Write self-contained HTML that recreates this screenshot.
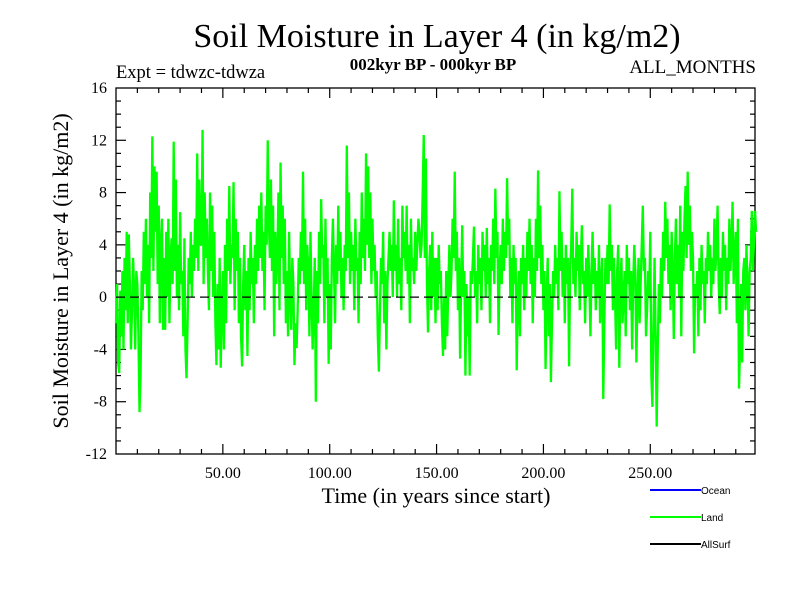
<!DOCTYPE html>
<html><head><meta charset="utf-8"><style>
body{margin:0;background:#fff}
svg text{font-family:"Liberation Serif",serif;fill:#000}
</style></head><body>
<svg id="chart" width="800" height="600" xmlns="http://www.w3.org/2000/svg">
<rect width="800" height="600" fill="#fff"/>
<text x="437" y="47" font-size="34" text-anchor="middle">Soil Moisture in Layer 4 (in kg/m2)</text>
<text x="116" y="78" font-size="18.5">Expt = tdwzc-tdwza</text>
<text x="433" y="70" font-size="17" font-weight="bold" text-anchor="middle">002kyr BP - 000kyr BP</text>
<text x="756" y="73" font-size="19" text-anchor="end">ALL_MONTHS</text>
<text transform="translate(68,271) rotate(-90)" font-size="22" text-anchor="middle">Soil Moisture in Layer 4 (in kg/m2)</text>
<text x="436" y="503" font-size="22" text-anchor="middle">Time (in years since start)</text>
<g id="ticks"></g>
<g id="plot"></g>
<g>
<g><line x1="650" y1="490" x2="701" y2="490" stroke="#0000ff" stroke-width="2"/><text x="701" y="494" font-size="10" style="font-family:'Liberation Sans',sans-serif">Ocean</text></g>
<g><line x1="650" y1="517" x2="701" y2="517" stroke="#00ff00" stroke-width="2"/><text x="701" y="521" font-size="10" style="font-family:'Liberation Sans',sans-serif">Land</text></g>
<g><line x1="650" y1="544" x2="701" y2="544" stroke="#000" stroke-width="2"/><text x="701" y="548" font-size="10" style="font-family:'Liberation Sans',sans-serif">AllSurf</text></g>
</g>
</svg>
<script>
const xTickValues=[50,100,150,200,250];
const xTickLabels=["50.00","100.00","150.00","200.00","250.00"];
const yTickValues=[-12,-8,-4,0,4,8,12,16];
const yTickLabels=["-12","-8","-4","0","4","8","12","16"];
const timeStep=0.5;
const landValues=[
-2,1,-5,-5.8,0.5,-3,2,-4,3,-1,5,-2,4.8,1,-4,-1,3,0.5,-4,2,
1,-3,-8.8,-6,2,-1,5,1,6,0,4,-2,8,3,12.3,2,10,5,9.6,1,
7,-2,4,6,-2.5,3,-2.5,5,0,6,-2,3,4.5,1,11.9,2,9,0,4,-1,
6.5,1,2,-3,4.5,-4,-6.2,-2,3,1,5,0,4,2,6,3,11,2,9,4,
4,12.8,1,8,3,6,2,-1,8,2,7,0,5,-2,-5.2,1,-4,3,-5.4,-1,
2,-4,4,-2,6,2,8.5,1,4,3,8.8,-1,6,2,5,-2,3,-3,-5.3,1,
4,-1,2,-4.5,3,-1,5,1,3,-2,4,1,6,2,7,3,8,2,5,-1,
7,4,12,6,3,9,2,7,-3,5,1,3,8,-1,10.3,3,7,1,6,-2,
2,-3,5,0,-2.5,3,1,-5.2,-2,-3.9,-1,3,1,5,2,9.6,1,6,-1,4,
2,-3,5,0,-4,-1,3,-8,2,-2,5,1,7.5,3,4,-2,6,0,3,-5.1,
1,-4,3,6,2,-2,4,1,7,2,5,0,3,-1,4,2,11.6,3,8,1,
5,2,4,-1,6,2,3,-2,5,1,8,3,6,2,11,4,10,3,8,1,
6,2,4,0,2,-3,-5.7,-1,3,1,5,-2,2,-4,1,3,5,2,4,0,
7.4,2,4,0,6,1,3,-1,7,3,5,2,7,1,4,-2,6,2,3,1,
5,2,4,6,5,3,4,8,12.4,3,10.6,1,-2.7,2,4,-1,5,0,3,-2,
3,-1,4,1,2,-2,-4.5,0,-4,2,-3,1,4,0,2,6,3,9.6,2,5,
-1,3,-4.7,1,5.5,0,2,-6,1,-3,0,-6,2,1,3,5.4,0,2,-2,4,
1,3,-1,5,2,4,0,5.3,1,3,-2,4,2,6,1,8.3,3,5,-2.9,2,
4,1,6,2,5,3,9.1,4,6,0,3,-2,4,1,3,-5.6,0,2,-3,3,
1,4,-1,3,0,5,2,6,1,4,-2,3,0,6,2,9.7,3,7,1,4,
-1,2,-5.5,0,3,-3,1,-6.5,-2,2,0,4,1,3,-1,8.1,2,5,0,3,
-2,4,1,3,-5.3,2,4,8.3,1,3,0,5,2,4,-1,3,5.5,1,2,-2,
3,0,4,1,-3,2,5,1,3,-1,2,0,4,-2,1,3,-7.8,-2,3,1,
4,1,7.1,2,4,-1,3,0,-4,2,4,-5.4,1,3,-2,0,2,-3,4,1,
3,-1,2,-4,1,4,2,-5,0,3,-2,1,4,7,2,3,-3,-1,2,0,
5,-6,-8.4,-2,3,-3,-9.9,-4,1,-2,3,0,5,2,7.3,3,6,1,4,-1,
5,2,-3.2,3,6,1,4,0,7,-3,5,2,6,8.5,3,9.6,4,7,2,5,
3,-4.3,1,0,2,-3,3,-1,4,1,2,-2,3,1,5,2,4,0,3,1,
6,2,4,7,1,-1.3,3,0,5,2,4,-1,3,1,6,2,4,7.3,1,3,
5,-2,6,-7,-4,1,-5,2,3,-1,4,1,-3,2,3,6.6,2,4,6.6,5
];
const NS="http://www.w3.org/2000/svg";
const L=116,R=755,T=88,B=454,XMIN=0,XMAX=299,YMIN=-12,YMAX=16;
function xs(v){return L+(v-XMIN)/(XMAX-XMIN)*(R-L);}
function ys(v){return B-(v-YMIN)/(YMAX-YMIN)*(B-T);}
function mk(tag,attrs,parent){const e=document.createElementNS(NS,tag);for(const k in attrs)e.setAttribute(k,attrs[k]);parent.appendChild(e);return e;}
const plot=document.getElementById('plot');
const ticks=document.getElementById('ticks');
let pts=landValues.map((v,i)=>xs(i*timeStep).toFixed(2)+","+ys(v).toFixed(2)).join(" ");
const line=mk('polyline',{points:pts,fill:'none',stroke:'#00ff00','stroke-width':2.3,'stroke-linejoin':'bevel'},plot);


const z=mk('line',{x1:L,x2:R,y1:ys(0),y2:ys(0),stroke:'#000','stroke-width':1.2,'stroke-dasharray':'9,5'},plot);


const fr=mk('rect',{x:L,y:T,width:R-L,height:B-T,fill:'none',stroke:'#000','stroke-width':1.3},ticks);


for(let v=10;v<XMAX;v+=10){const len=(v%50===0)?10:5;const x=xs(v);
 mk('line',{x1:x,x2:x,y1:B,y2:B-len,stroke:'#000','stroke-width':1.2},ticks);
 mk('line',{x1:x,x2:x,y1:T,y2:T+len,stroke:'#000','stroke-width':1.2},ticks);}
for(let v=YMIN+1;v<YMAX;v+=1){const len=(v%4===0)?10:5;const y=ys(v);
 mk('line',{x1:L,x2:L+len,y1:y,y2:y,stroke:'#000','stroke-width':1.2},ticks);
 mk('line',{x1:R,x2:R-len,y1:y,y2:y,stroke:'#000','stroke-width':1.2},ticks);}
xTickValues.forEach((v,i)=>{const t=mk('text',{x:xs(v),y:B+24,'font-size':16,'text-anchor':'middle'},ticks);t.textContent=xTickLabels[i];
 
 });
yTickValues.forEach((v,i)=>{const t=mk('text',{x:L-9,y:ys(v)+5,'font-size':16,'text-anchor':'end'},ticks);t.textContent=yTickLabels[i];
 
 });
</script>
</body></html>
